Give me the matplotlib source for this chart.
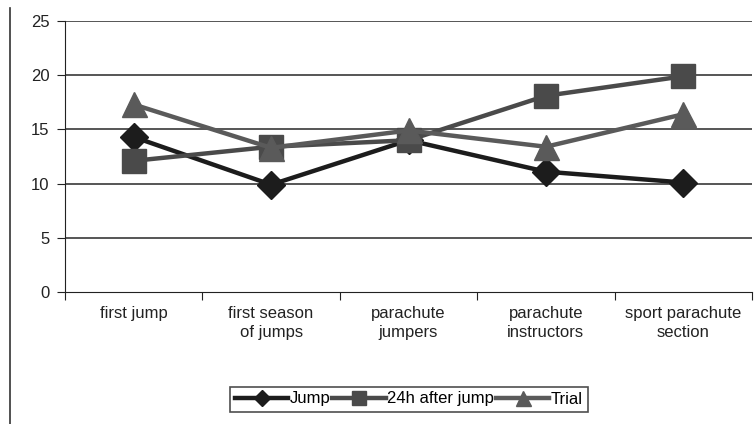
import matplotlib.pyplot as plt
from matplotlib.lines import Line2D

categories = ["first jump", "first season\nof jumps", "parachute\njumpers",
              "parachute\ninstructors", "sport parachute\nsection"]
jump = [14.3, 9.9, 14.0, 11.1, 10.1]
after_24h = [12.1, 13.4, 14.0, 18.1, 19.9]
trial = [17.3, 13.3, 14.9, 13.4, 16.4]
y_ticks = [0, 5, 10, 15, 20, 25]

plt.rcParams["font.family"] = ["Liberation Sans Narrow", "Liberation Sans", "DejaVu Sans"]

fig = plt.figure(figsize=(7.56, 4.24), dpi=100)
ax = fig.add_axes([65 / 756, 1 - 292 / 424, (752 - 65) / 756, (292 - 21) / 424])

x = [i + 0.5 for i in range(len(categories))]
ax.plot(x, jump, color="#1c1c1c", lw=3.2, marker="D", ms=14, label="Jump", zorder=3)
ax.plot(x, after_24h, color="#4a4a4a", lw=3.2, marker="s", ms=17, label="24h after jump", zorder=4)
ax.plot(x, trial, color="#5a5a5a", lw=3.2, marker="^", ms=18, label="Trial", zorder=5)

ax.set_xlim(0, len(categories))
ax.set_ylim(0, 25)
ax.set_yticks(y_ticks)
ax.set_xticks(range(len(categories) + 1))
ax.set_xticklabels([])
for i, c in enumerate(categories):
    ax.text(i + 0.5, -1.3, c, ha="center", va="top", fontsize=12, color="#222222",
            linespacing=1.3)

for y in y_ticks[1:]:
    ax.axhline(y, color="#555555", lw=1.4, zorder=1)

for s in ["top", "right"]:
    ax.spines[s].set_visible(False)
ax.spines["left"].set_color("#222222")
ax.spines["bottom"].set_color("#222222")
ax.tick_params(axis="y", length=6, direction="out", labelsize=12, labelcolor="#222222",
               color="#222222", pad=5)
ax.tick_params(axis="x", length=6, direction="out", color="#222222")

# frame line on the far left
fig.add_artist(Line2D([10 / 756, 10 / 756], [0, 1 - 8 / 424], color="#333333", lw=1.2))

leg = ax.legend(loc="center", bbox_to_anchor=(409 / 756, 1 - 399 / 424),
                bbox_transform=fig.transFigure, ncol=3, fontsize=12, frameon=True,
                fancybox=False, edgecolor="#222222", handlelength=3.2, handletextpad=0.1,
                columnspacing=0.1, borderpad=0.3, markerscale=0.6)
leg.get_frame().set_linewidth(1.2)

fig.savefig("out.png", dpi=100)
